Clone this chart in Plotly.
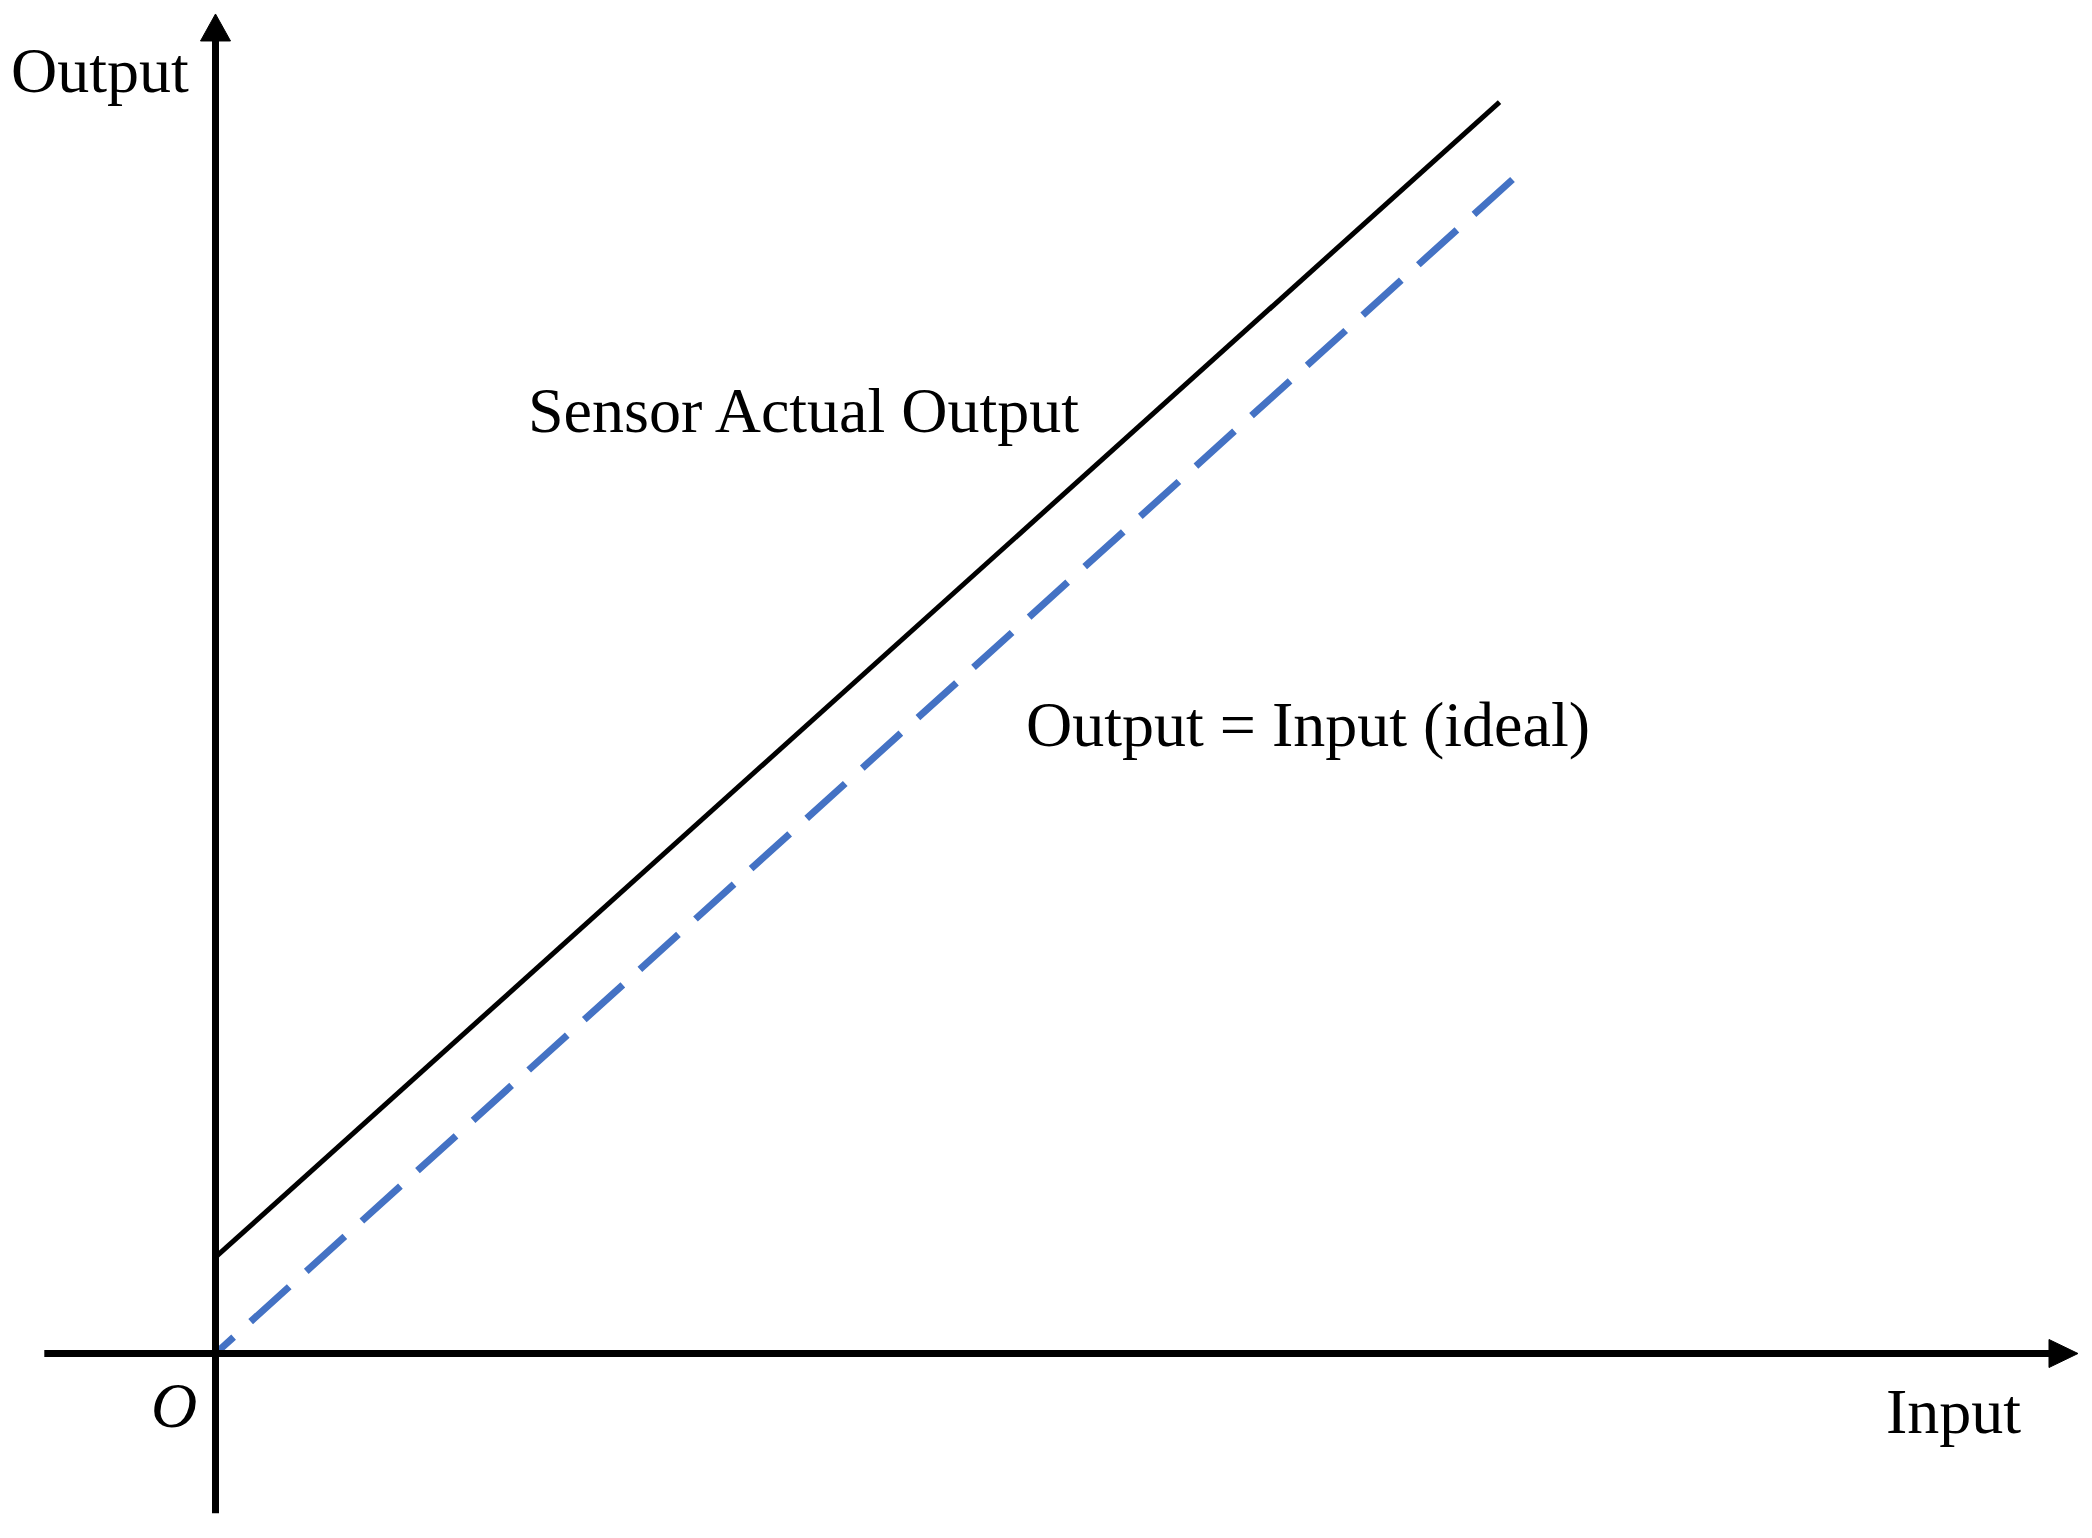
import plotly.graph_objects as go

# Data
ideal_input = [10.0, 0.0]
ideal_output = [10.0, 0.0]
actual_input = [0.0, 9.9]
actual_output = [0.82, 10.66]

# Axis extents (data units)
x_axis_min, x_axis_tip = -1.32, 14.36
y_axis_min, y_axis_tip = -1.36, 11.41

W, H = 2092, 1538
px_x = 129.7  # pixels per x unit
px_y = 117.4  # pixels per y unit
ox, oy = 207.5, 1345.5  # origin pixel position (compensating page margin)

xr = [-ox / px_x, (W - ox) / px_x]
yr = [-(H - oy) / px_y, oy / px_y]

FONT = "Liberation Serif, Times New Roman, serif"
FS = 64

fig = go.Figure()

fig.add_trace(go.Scatter(
    x=actual_input, y=actual_output, mode="lines",
    line=dict(color="black", width=5), hoverinfo="skip", showlegend=False))
fig.add_trace(go.Scatter(
    x=ideal_input, y=ideal_output, mode="lines",
    line=dict(color="#4472C4", width=7, dash="52px,23px"), hoverinfo="skip", showlegend=False))

# Axes lines with arrowheads
head_len_x = 29 / px_x
head_half_x = 14 / px_y
head_len_y = 27 / px_y
head_half_y = 15 / px_x

shapes = [
    dict(type="line", xref="x", yref="y", x0=x_axis_min, y0=0, x1=x_axis_tip - head_len_x, y1=0,
         line=dict(color="black", width=7)),
    dict(type="path", xref="x", yref="y",
         path=f"M {x_axis_tip - head_len_x},{head_half_x} L {x_axis_tip},0 L {x_axis_tip - head_len_x},{-head_half_x} Z",
         fillcolor="black", line=dict(color="black", width=1)),
    dict(type="line", xref="x", yref="y", x0=0, y0=y_axis_min, x1=0, y1=y_axis_tip - head_len_y,
         line=dict(color="black", width=7)),
    dict(type="path", xref="x", yref="y",
         path=f"M {-head_half_y},{y_axis_tip - head_len_y} L 0,{y_axis_tip} L {head_half_y},{y_axis_tip - head_len_y} Z",
         fillcolor="black", line=dict(color="black", width=1)),
]

annotations = [
    dict(x=-0.887, y=10.93, text="Output"),
    dict(x=13.40, y=-0.49, text="Input"),
    dict(x=-0.32, y=-0.44, text="<i>O</i>"),
    dict(x=4.53, y=8.03, text="Sensor Actual Output"),
    dict(x=8.42, y=5.36, text="Output = Input (ideal)"),
]
for a in annotations:
    a.update(xref="x", yref="y", showarrow=False, xanchor="center", yanchor="middle",
             font=dict(family=FONT, size=FS, color="black"))

fig.update_layout(
    width=W, height=H,
    margin=dict(l=0, r=0, t=0, b=0),
    paper_bgcolor="white", plot_bgcolor="white",
    xaxis=dict(range=xr, visible=False, fixedrange=True),
    yaxis=dict(range=yr, visible=False, fixedrange=True),
    shapes=shapes, annotations=annotations,
    showlegend=False,
)

fig.write_html("out.html")
